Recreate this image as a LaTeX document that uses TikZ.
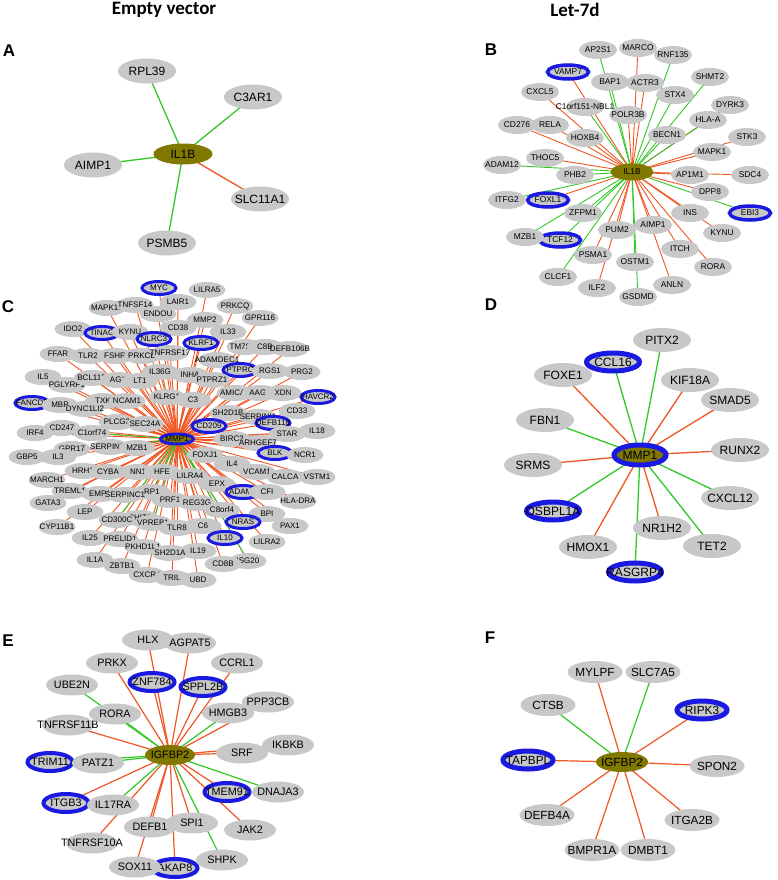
\documentclass[tikz,border=0pt]{standalone}
\usepackage{fontspec}
\setmainfont{Liberation Sans}
\newfontfamily\titlefont{Carlito}
\usetikzlibrary{shapes.geometric}
\definecolor{ngray}{RGB}{200,200,200}
\definecolor{nblue}{RGB}{25,25,225}
\definecolor{olv}{RGB}{128,120,0}
\definecolor{er}{RGB}{240,85,35}
\definecolor{eg}{RGB}{50,200,40}
\pgfdeclarelayer{bg}
\pgfdeclarelayer{paper}
\pgfsetlayers{paper,bg,main}
\newcommand\gn[4][]{\node[#1] (#2) at (#3) {\makebox[0pt]{#4}};}
\begin{document}
\begin{tikzpicture}[x=1pt,y=-1pt,
 base/.style={ellipse,inner sep=0pt,outer sep=0pt,fill=ngray},
 pA/.style={base,minimum width=58pt,minimum height=25pt,font=\fontsize{12}{12}\selectfont},
 pB/.style={base,minimum width=38pt,minimum height=18pt,font=\fontsize{8.4}{9}\selectfont},
 rB/.style={pB,draw=nblue,line width=3.5pt,minimum width=41pt,minimum height=14pt},
 pC/.style={base,minimum width=37pt,minimum height=16pt,font=\fontsize{8}{9}\selectfont},
 rC/.style={pC,draw=nblue,line width=3pt,minimum width=34pt,minimum height=13pt},
 pD/.style={base,minimum width=58pt,minimum height=24pt,font=\fontsize{12}{12}\selectfont},
 rD/.style={pD,draw=nblue,line width=5pt,minimum width=53pt,minimum height=18pt},
 pE/.style={base,minimum width=52pt,minimum height=21pt,font=\fontsize{10.8}{11}\selectfont},
 rE/.style={pE,draw=nblue,line width=4pt,minimum width=45pt,minimum height=18pt},
 pF/.style={base,minimum width=55pt,minimum height=22pt,font=\fontsize{11.8}{12}\selectfont},
 rF/.style={pF,draw=nblue,line width=5pt,minimum width=50pt,minimum height=18pt},
 hub/.style={fill=olv},
 plabel/.style={font=\fontsize{17}{17}\selectfont\bfseries,inner sep=0pt},
 ptitle/.style={font=\titlefont\fontsize{19}{19}\selectfont\bfseries,inner sep=0pt}
]
\begin{pgfonlayer}{paper}
\fill[white] (0,0) rectangle (777,880);
\end{pgfonlayer}
\useasboundingbox (0,0) rectangle (777,880);

% titles and panel letters
\node[ptitle] (t1) at (164,10) {Empty vector};
\node[ptitle] (t2) at (575,10) {Let-7d};
\node[plabel] (lA) at (9,51) {A};
\node[plabel] (lB) at (491,50) {B};
\node[plabel] (lC) at (8,307) {C};
\node[plabel] (lD) at (491,305) {D};
\node[plabel] (lE) at (8,641) {E};
\node[plabel] (lF) at (490,638) {F};

% ---------------- Panel A
\gn[pA]{aRPL39}{147,71}{RPL39}
\gn[pA]{aC3AR1}{253,97}{C3AR1}
\gn[pA]{aAIMP1}{93,165}{AIMP1}
\gn[pA]{aSLC11A1}{260,199}{SLC11A1}
\gn[pA]{aPSMB5}{167,243}{PSMB5}
\gn[pA,hub,minimum width=59pt,minimum height=21pt]{aIL1B}{183,154}{IL1B}

% ---------------- Panel B
\gn[pB]{bC1orf}{585,107}{C1orf151-NBL1}
\gn[pB]{bAP2S1}{598,50}{AP2S1}
\gn[pB]{bMARCO}{638,48}{MARCO}
\gn[pB]{bRNF135}{673,55}{RNF135}
\gn[rB]{bVAMP7}{568,72}{VAMP7}
\gn[pB]{bBAP1}{610,82}{BAP1}
\gn[pB]{bACTR3}{645,83}{ACTR3}
\gn[pB]{bSHMT2}{710,77}{SHMT2}
\gn[pB]{bCXCL5}{540,92}{CXCL5}
\gn[pB]{bSTX4}{675,95}{STX4}
\gn[pB]{bDYRK3}{730,105}{DYRK3}
\gn[pB]{bPOLR3B}{628,115}{POLR3B}
\gn[pB]{bCD276}{517,125}{CD276}
\gn[pB]{bRELA}{550,125}{RELA}
\gn[pB]{bHLAA}{708,120}{HLA-A}
\gn[pB]{bHOXB4}{585,138}{HOXB4}
\gn[pB]{bBECN1}{667,135}{BECN1}
\gn[pB]{bSTK3}{747,137}{STK3}
\gn[pB]{bMAPK1}{712,152}{MAPK1}
\gn[pB]{bADAM1}{502,165}{ADAM12}
\gn[pB]{bTHOC5}{545,158}{THOC5}
\gn[pB]{bPHB2}{575,175}{PHB2}
\gn[pB]{bAP1M1}{690,175}{AP1M1}
\gn[pB]{bSDC4}{750,175}{SDC4}
\gn[pB]{bDPP8}{710,192}{DPP8}
\gn[rB]{bFOXL1}{548,200}{FOXL1}
\gn[pB]{bITFG2}{507,200}{ITFG2}
\gn[pB]{bZFPM1}{583,213}{ZFPM1}
\gn[pB]{bINS}{690,213}{INS}
\gn[rB]{bEBI3}{750,213}{EBI3}
\gn[pB]{bAIMP1}{653,225}{AIMP1}
\gn[pB]{bPUM2}{617,230}{PUM2}
\gn[rB]{bTCF12}{560,240}{TCF12}
\gn[pB]{bMZB1}{525,237}{MZB1}
\gn[pB]{bKYNU}{722,233}{KYNU}
\gn[pB]{bITCH}{680,249}{ITCH}
\gn[pB]{bPSMA1}{593,255}{PSMA1}
\gn[pB]{bOSTM1}{635,262}{OSTM1}
\gn[pB]{bRORA}{713,267}{RORA}
\gn[pB]{bCLCF1}{558,277}{CLCF1}
\gn[pB]{bANLN}{672,285}{ANLN}
\gn[pB]{bILF2}{597,288}{ILF2}
\gn[pB]{bGSDMD}{638,297}{GSDMD}
\gn[pB,hub,minimum width=43pt,minimum height=17pt]{bIL1B}{632,172}{IL1B}

% ---------------- Panel C
\gn[rC]{c1}{159,288}{MYC}
\gn[pC]{c2}{207,290}{LILRA5}
\gn[pC]{c3}{178,302}{LAIR1}
\gn[pC]{c4}{107,308}{MAPK10}
\gn[pC]{c5}{135,305}{TNFSF14}
\gn[pC]{c6}{235,306}{PRKCQ}
\gn[pC]{c7}{158,314}{ENDOU}
\gn[pC]{c8}{205,320}{MMP2}
\gn[pC]{c9}{260,318}{GPR116}
\gn[pC]{c10}{73,329}{IDO2}
\gn[rC]{c11}{102,333}{TINAG}
\gn[pC]{c12}{130,332}{KYNU}
\gn[pC]{c13}{178,328}{CD38}
\gn[pC]{c14}{228,332}{IL33}
\gn[rC]{c15}{154,339}{NLRC3}
\gn[rC]{c16}{201,343}{KLRF1}
\gn[pC]{c17}{245,347}{TM7SF4}
\gn[pC]{c18}{265,347}{C8B}
\gn[pC]{c19}{290,349}{DEFB106B}
\gn[pC]{c20}{58,354}{FFAR}
\gn[pC]{c21}{88,356}{TLR2}
\gn[pC]{c22}{115,356}{FSHR}
\gn[pC]{c23}{142,356}{PRKCB}
\gn[pC]{c24}{170,353}{TNFRSF17}
\gn[pC]{c25}{217,360}{ADAMDEC1}
\gn[rC]{c26}{240,370}{PTPRC}
\gn[pC]{c27}{270,371}{RGS1}
\gn[pC]{c28}{302,372}{PRG2}
\gn[pC]{c29}{160,372}{IL36G}
\gn[pC]{c30}{190,375}{INHA}
\gn[pC]{c31}{43,377}{IL5}
\gn[pC]{c36}{67,385}{PGLYRP1}
\gn[pC]{c32}{92,378}{BCL11B}
\gn[pC]{c33}{118,380}{AG1}
\gn[pC]{c34}{140,381}{LT1}
\gn[pC]{c35}{212,380}{PTPRZ1}
\gn[pC]{c37}{235,393}{AMICA1}
\gn[pC]{c38}{260,393}{AAG1}
\gn[pC]{c39}{283,393}{XDN}
\gn[rC]{c40}{318,397}{HAVCR2}
\gn[pC]{c41}{167,397}{KLRG1}
\gn[pC]{c42}{193,400}{C3}
\gn[pC]{c43}{103,401}{TXK}
\gn[pC]{c44}{127,401}{NCAM1}
\gn[rC]{c45}{32,403}{FANCD2}
\gn[pC]{c46}{60,405}{MBP}
\gn[pC]{c47}{85,409}{DYNC1LI2}
\gn[pC]{c48}{297,411}{CD33}
\gn[pC]{c49}{228,413}{SH2D1B}
\gn[pC]{c50}{258,417}{SERPINI1}
\gn[pC]{c51}{117,422}{PLCG2}
\gn[pC]{c52}{145,424}{SEC24A}
\gn[rC]{c53}{273,423}{DEFB118}
\gn[rC]{c54}{209,426}{CD209}
\gn[pC]{c55}{62,428}{CD247}
\gn[pC]{c56}{317,431}{IL18}
\gn[pC]{c57}{35,433}{IRF4}
\gn[pC]{c58}{92,433}{C1orf74}
\gn[pC]{c59}{287,434}{STAR}
\gn[pC]{c60}{232,439}{BIRC3}
\gn[pC]{c61}{258,443}{ARHGEF7}
\gn[pC]{c62}{110,447}{SERPINB4}
\gn[pC]{c63}{137,448}{MZB1}
\gn[pC]{c64}{72,449}{GPR17}
\gn[rC]{c65}{275,453}{BLK}
\gn[pC]{c66}{305,455}{NCR1}
\gn[pC]{c67}{205,455}{FOXJ1}
\gn[pC]{c68}{27,457}{GBP5}
\gn[pC]{c69}{58,457}{IL3}
\gn[pC]{c70}{232,464}{IL4}
\gn[pC]{c71}{83,471}{HRH1}
\gn[pC]{c72}{108,472}{CYBA}
\gn[pC]{c73}{138,472}{NN1}
\gn[pC]{c74}{162,472}{HFE}
\gn[pC]{c75}{257,472}{VCAM1}
\gn[pC]{c76}{190,476}{LILRA4}
\gn[pC]{c77}{285,477}{CALCA}
\gn[pC]{c78}{317,477}{VSTM1}
\gn[pC]{c79}{47,480}{MARCH1}
\gn[pC]{c80}{217,484}{EPX}
\gn[pC]{c81}{70,491}{TREML1}
\gn[rC]{c82}{243,492}{ADAM8}
\gn[pC]{c83}{267,492}{CFI}
\gn[pC]{c84}{152,492}{RP1}
\gn[pC]{c85}{100,494}{EMP1}
\gn[pC]{c86}{125,495}{SERPINC1}
\gn[pC]{c87}{170,500}{PRF1}
\gn[pC]{c88}{298,501}{HLA-DRA}
\gn[pC]{c89}{197,503}{REG3G}
\gn[pC]{c90}{48,503}{GATA3}
\gn[pC]{c91}{222,510}{C8orf4}
\gn[pC]{c92}{85,512}{LEP}
\gn[pC]{c93}{267,514}{BPI}
\gn[pC]{c94}{140,518}{CHIT1}
\gn[pC]{c95}{117,520}{CD300C}
\gn[rC]{c96}{243,522}{NRAS}
\gn[pC]{c97}{153,523}{VPREB1}
\gn[pC]{c98}{203,526}{C6}
\gn[pC]{c99}{290,526}{PAX1}
\gn[pC]{c100}{57,527}{CYP11B1}
\gn[pC]{c101}{177,528}{TLR8}
\gn[rC]{c102}{225,538}{IL10}
\gn[pC]{c103}{90,538}{IL25}
\gn[pC]{c104}{120,539}{PRELID1}
\gn[pC]{c105}{267,542}{LILRA2}
\gn[pC]{c106}{143,547}{PKHD1L1}
\gn[pC]{c107}{198,551}{IL19}
\gn[pC]{c108}{170,553}{SH2D1A}
\gn[pC]{c109}{95,560}{IL1A}
\gn[pC]{c110}{248,561}{ISG20}
\gn[pC]{c111}{223,564}{CD8B}
\gn[pC]{c112}{122,566}{ZBTB1}
\gn[pC]{c113}{147,575}{CXCR4}
\gn[pC]{c114}{172,578}{TRIL}
\gn[pC]{c115}{198,580}{UBD}
\gn[rC,hub,minimum width=33pt,minimum height=10pt]{cMMP1}{177,439}{MMP1}

% ---------------- Panel D
\gn[pD]{dPITX2}{662,340}{PITX2}
\gn[pD]{dFOXE1}{563,375}{FOXE1}
\gn[rD]{dCCL16}{613,362}{CCL16}
\gn[pD]{dKIF18A}{690,380}{KIF18A}
\gn[pD]{dSMAD5}{730,400}{SMAD5}
\gn[pD]{dFBN1}{545,420}{FBN1}
\gn[pD]{dRUNX2}{740,450}{RUNX2}
\gn[pD]{dSRMS}{533,465}{SRMS}
\gn[pD]{dCXCL12}{730,498}{CXCL12}
\gn[rD]{dOSBPL1A}{553,511}{OSBPL1A}
\gn[pD]{dNR1H2}{662,528}{NR1H2}
\gn[pD]{dTET2}{712,546}{TET2}
\gn[pD]{dHMOX1}{588,547}{HMOX1}
\gn[rD]{dRASGRP4}{635,572}{RASGRP4}
\gn[rD,hub,minimum width=52pt,minimum height=20pt]{dMMP1}{640,455}{MMP1}

% ---------------- Panel E
\gn[pE]{eHLX}{148,640}{HLX}
\gn[pE]{eAGPAT5}{190,643}{AGPAT5}
\gn[pE]{ePRKX}{112,663}{PRKX}
\gn[pE]{eCCRL1}{237,663}{CCRL1}
\gn[pE]{eUBE2N}{72,685}{UBE2N}
\gn[rE]{eZNF784}{152,682}{ZNF784}
\gn[rE]{eSPPL2B}{203,687}{SPPL2B}
\gn[pE]{ePPP3CB}{268,702}{PPP3CB}
\gn[pE]{eHMGB3}{228,713}{HMGB3}
\gn[pE]{eTNFRSF11B}{68,725}{TNFRSF11B}
\gn[pE]{eRORA}{115,714}{RORA}
\gn[pE]{eIKBKB}{288,745}{IKBKB}
\gn[pE]{eSRF}{242,753}{SRF}
\gn[rE]{eTRIM11}{50,762}{TRIM11}
\gn[pE]{ePATZ1}{98,763}{PATZ1}
\gn[rE]{eTMEM91}{227,792}{TMEM91}
\gn[pE]{eDNAJA3}{278,792}{DNAJA3}
\gn[rE]{eITGB3}{66,803}{ITGB3}
\gn[pE]{eIL17RA}{113,805}{IL17RA}
\gn[pE]{eJAK2}{250,830}{JAK2}
\gn[pE]{eTNFRSF10A}{92,843}{TNFRSF10A}
\gn[pE]{eDEFB1}{150,827}{DEFB1}
\gn[pE]{eSPI1}{192,823}{SPI1}
\gn[rE]{eAKAP8}{175,868}{AKAP8}
\gn[pE]{eSOX11}{135,867}{SOX11}
\gn[pE]{eSHPK}{222,860}{SHPK}
\gn[pE,hub,minimum width=50pt,minimum height=20pt]{eIGFBP2}{170,755}{IGFBP2}

% ---------------- Panel F
\gn[pF]{fMYLPF}{595,672}{MYLPF}
\gn[pF]{fSLC7A5}{653,672}{SLC7A5}
\gn[pF]{fCTSB}{548,705}{CTSB}
\gn[rF]{fRIPK3}{702,710}{RIPK3}
\gn[rF]{fTAPBPL}{528,760}{TAPBPL}
\gn[pF]{fSPON2}{717,766}{SPON2}
\gn[pF]{fDEFB4A}{547,815}{DEFB4A}
\gn[pF]{fITGA2B}{692,820}{ITGA2B}
\gn[pF]{fBMPR1A}{592,850}{BMPR1A}
\gn[pF]{fDMBT1}{648,850}{DMBT1}
\gn[pF,hub,minimum width=52pt,minimum height=20pt]{fIGFBP2}{622,762}{IGFBP2}

% ---------------- connectors (behind nodes)
\begin{pgfonlayer}{bg}
\foreach \n/\col in {aRPL39/eg,aC3AR1/eg,aAIMP1/eg,aSLC11A1/er,aPSMB5/eg}
  \draw[draw=\col,line width=1.3pt] (aIL1B.center) -- (\n.center);
\foreach \n/\col in {bC1orf/eg,bAP2S1/eg,bMARCO/er,bRNF135/eg,bVAMP7/er,bBAP1/eg,bACTR3/er,
  bSHMT2/eg,bCXCL5/er,bSTX4/eg,bDYRK3/er,bPOLR3B/er,bCD276/er,bRELA/er,bHLAA/eg,bHOXB4/er,
  bBECN1/eg,bSTK3/er,bMAPK1/er,bADAM1/eg,bTHOC5/er,bPHB2/eg,bAP1M1/er,bSDC4/er,bDPP8/er,
  bFOXL1/er,bITFG2/eg,bZFPM1/eg,bINS/er,bEBI3/eg,bAIMP1/er,bPUM2/er,bTCF12/eg,bMZB1/eg,
  bKYNU/er,bITCH/er,bPSMA1/er,bOSTM1/eg,bRORA/er,bCLCF1/eg,bANLN/er,bILF2/er,bGSDMD/eg}
  \draw[draw=\col,line width=0.9pt] (bIL1B.center) -- (\n.center);
\foreach \i in {1,...,115}
  \draw[draw=er,line width=0.9pt] (cMMP1.center) -- (c\i.center);
\foreach \i in {58,62,74,84,91,95,97,110}
  \draw[draw=eg,line width=0.9pt] (cMMP1.center) -- (c\i.center);
\foreach \n/\col in {dPITX2/eg,dCCL16/eg,dFOXE1/er,dKIF18A/er,dSMAD5/er,dFBN1/eg,dRUNX2/er,
  dSRMS/er,dCXCL12/eg,dOSBPL1A/eg,dNR1H2/er,dTET2/eg,dHMOX1/er,dRASGRP4/eg}
  \draw[draw=\col,line width=1.3pt] (dMMP1.center) -- (\n.center);
\foreach \n/\col in {eHLX/er,eAGPAT5/er,ePRKX/er,eCCRL1/er,eUBE2N/eg,eZNF784/er,eSPPL2B/er,
  ePPP3CB/er,eHMGB3/eg,eRORA/eg,eTNFRSF11B/er,eIKBKB/er,eSRF/er,eTRIM11/eg,ePATZ1/eg,
  eDNAJA3/eg,eTMEM91/er,eITGB3/er,eIL17RA/eg,eDEFB1/er,eSPI1/er,eJAK2/er,eTNFRSF10A/er,
  eSOX11/er,eAKAP8/er,eSHPK/eg}
  \draw[draw=\col,line width=1.2pt] (eIGFBP2.center) -- (\n.center);
\foreach \n/\col in {fMYLPF/er,fSLC7A5/eg,fCTSB/eg,fRIPK3/er,fTAPBPL/er,fSPON2/er,fDEFB4A/er,
  fITGA2B/er,fBMPR1A/er,fDMBT1/er}
  \draw[draw=\col,line width=1.2pt] (fIGFBP2.center) -- (\n.center);
\end{pgfonlayer}
\end{tikzpicture}
\end{document}
